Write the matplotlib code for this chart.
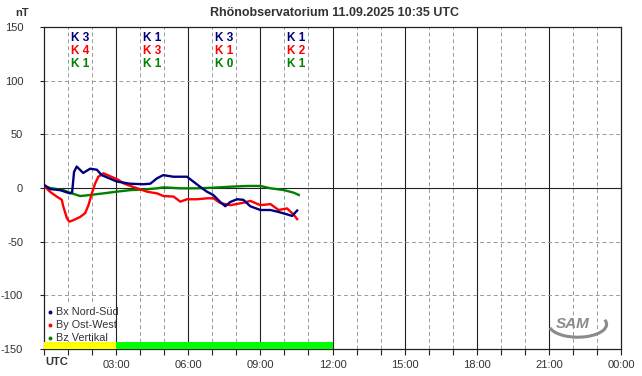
import matplotlib
matplotlib.use('Agg')
import matplotlib.pyplot as plt
from matplotlib.patches import Arc, Rectangle

plt.rcParams['font.family'] = ['Liberation Sans', 'DejaVu Sans']

# Bx Nord-Sued (hours UTC, nT)
bx_t = [0.00, 0.25, 0.67, 1.08, 1.17, 1.25, 1.36, 1.63, 1.92, 2.20, 2.40, 2.61, 3.03,
        3.58, 4.13, 4.42, 4.70, 4.96, 5.38, 5.95, 6.21, 6.50, 6.78, 7.04, 7.33, 7.54,
        7.75, 8.03, 8.29, 8.58, 9.00, 9.42, 9.70, 9.96, 10.32, 10.53]
bx_v = [3, -1, -2, -5, -4, 15, 20, 14, 18, 17, 12, 10, 6,
        4, 3.5, 4, 9, 12, 10.5, 10.5, 6, 1, -3.5, -6.5, -13, -17,
        -13, -10.5, -11, -17, -20.5, -20.5, -22, -23.6, -26, -21]

# By Ost-West
by_t = [0.00, 0.25, 0.53, 0.74, 0.80, 0.95, 1.05, 1.22, 1.50, 1.71, 1.85, 1.99, 2.13,
        2.26, 2.47, 2.75, 3.10, 3.30, 3.58, 4.00, 4.28, 4.70, 4.97, 5.39, 5.67, 5.95,
        6.36, 6.78, 7.05, 7.33, 7.75, 8.30, 8.58, 9.00, 9.42, 9.76, 10.11, 10.39, 10.53]
by_v = [2, -3.5, -8, -11, -17, -28, -31.4, -30, -27, -23.5, -16, -5, 4.4,
        10.5, 13.7, 11, 7.5, 4.4, 2, -1.2, -3.4, -5, -7.5, -8, -12.7, -10.5,
        -10.5, -9.6, -9.6, -14, -16, -13.7, -12, -16, -15, -20.5, -19, -25, -29]

# Bz Vertikal
bz_t = [0.00, 0.25, 0.80, 1.08, 1.50, 1.92, 2.47, 3.03, 3.58, 4.28, 4.70, 4.97, 5.67,
        6.36, 7.05, 7.75, 8.45, 9.00, 9.42, 9.97, 10.39, 10.60]
bz_v = [2, 0, -2, -4.4, -7.5, -6.5, -5, -3.4, -2, -1.2, -0.3, 0.6, -0.3,
        -0.3, 0.3, 1.2, 1.9, 1.9, -0.3, -1.9, -4.4, -6.5]

# K indices per 3-hour interval
k_bx = [3, 1, 3, 1]
k_by = [4, 3, 1, 2]
k_bz = [1, 1, 0, 1]

# activity bar (start hour, end hour, colour)
bar_start = [0, 3]
bar_end = [3, 12]
bar_col = ['#ffff00', '#00ff00']

c_bx = '#000080'
c_by = '#ff0000'
c_bz = '#008000'

fig = plt.figure(figsize=(6.42, 3.76), dpi=100)
ax = fig.add_axes([44/642, 1-349/376, (621-44)/642, (349-27)/376])
ax.set_xlim(0, 24)
ax.set_ylim(-150, 150)

# grid
for h in range(1, 24):
    if h % 3 == 0:
        ax.axvline(h, color='#222222', lw=0.8, zorder=1)
    else:
        ax.axvline(h, color='#999999', lw=0.7, ls=(0, (4, 3)), zorder=1)
for v in [-100, -50, 50, 100]:
    ax.axhline(v, color='#999999', lw=0.7, ls=(0, (4, 3)), zorder=1)
ax.axhline(0, color='#222222', lw=0.8, zorder=1)

# legend background
ax.add_patch(Rectangle((0.05, -143), 2.85, 36.5, facecolor='white', edgecolor='none',
                       zorder=2))

widths = [e - s for s, e in zip(bar_start, bar_end)]
ax.bar(bar_start, [6.5] * len(bar_start), width=widths, bottom=-150, align='edge',
       color=bar_col, linewidth=0, zorder=2.6)

ax.plot(bz_t, bz_v, color=c_bz, lw=1.7, zorder=3)
ax.plot(by_t, by_v, color=c_by, lw=1.7, zorder=4)
ax.plot(bx_t, bx_v, color=c_bx, lw=1.7, zorder=5)

for sp in ax.spines.values():
    sp.set_color('#222222')
    sp.set_linewidth(0.9)

ax.set_yticks(range(-150, 151, 50))
ax.set_yticklabels([str(v) for v in range(-150, 151, 50)])
ax.set_xticks(range(0, 25))
xl = []
for h in range(25):
    if h == 0:
        xl.append('')
    elif h % 3 == 0:
        xl.append('%02d:00' % (h % 24))
    else:
        xl.append('')
ax.set_xticklabels(xl)
ax.tick_params(axis='both', colors='#222222', labelcolor='#333333', labelsize=8,
               width=0.8, direction='out')
ax.tick_params(axis='x', length=4, pad=4)
ax.tick_params(axis='y', length=3, pad=12)

# K index labels
for i in range(4):
    xc = i*3 + 1.5
    ax.text(xc, 139.5, 'K %d' % k_bx[i], color=c_bx, fontsize=8.5, fontweight='bold',
            ha='center', va='center')
    ax.text(xc, 127.5, 'K %d' % k_by[i], color=c_by, fontsize=8.5, fontweight='bold',
            ha='center', va='center')
    ax.text(xc, 115.5, 'K %d' % k_bz[i], color=c_bz, fontsize=8.5, fontweight='bold',
            ha='center', va='center')

# legend
leg = [('Bx Nord-Süd', c_bx), ('By Ost-West', c_by), ('Bz Vertikal', c_bz)]
for j, (lab, c) in enumerate(leg):
    yy = -115.5 - j*12.3
    ax.plot([0.25], [yy], 'o', color=c, ms=1.8, zorder=6)
    ax.text(0.5, yy, lab, color='#333333', fontsize=7.8, va='center', ha='left',
            zorder=6)

# SAM logo
ax.text(22.0, -127, 'SAM', color='#8a8a8a', fontsize=11, style='italic',
        ha='center', va='center', fontweight='bold')
ax.add_patch(Arc((22.2, -127), 2.4, 24, theta1=-110, theta2=75, color='#8a8a8a',
                 lw=2.2))

fig.text(22/642, 1-13/376, 'nT', fontsize=8, color='#333333', fontweight='bold',
         ha='center', va='center')
fig.text(335/642, 1-13/376, 'Rhönobservatorium 11.09.2025 10:35 UTC', fontsize=9,
         color='#333333', fontweight='bold', ha='center', va='center')
fig.text(57/642, 1-362/376, 'UTC', fontsize=8, color='#333333', fontweight='bold',
         ha='center', va='center')

fig.savefig('out.png', dpi=100, facecolor='white')
